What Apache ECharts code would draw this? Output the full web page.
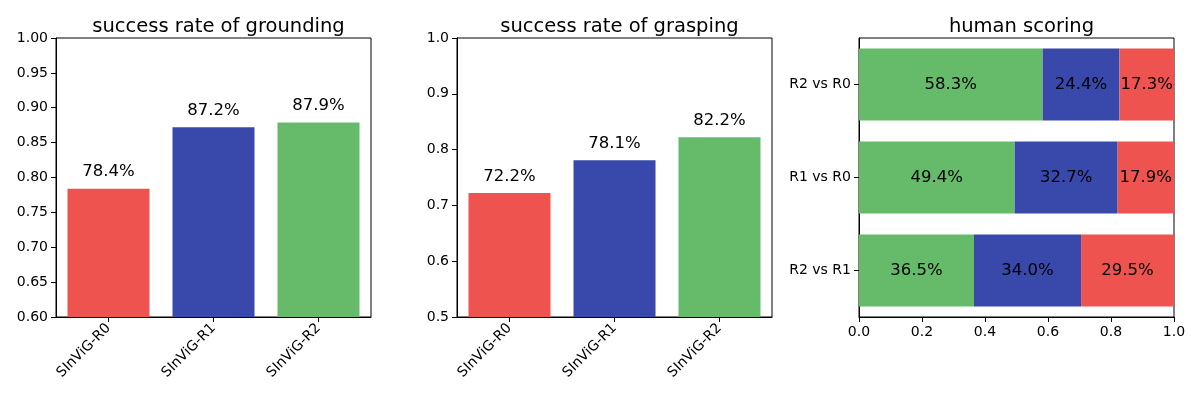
<!DOCTYPE html>
<html>
<head>
<meta charset="utf-8">
<script src="https://cdn.jsdelivr.net/npm/echarts@6/dist/echarts.min.js"></script>
<style>
html,body{margin:0;padding:0;background:#fff;}
#main{width:1200px;height:400px;}
</style>
</head>
<body>
<div id="main"></div>
<script>
// 数据
var models = ["SInViG-R0", "SInViG-R1", "SInViG-R2"];
var grounding = [0.784, 0.872, 0.879];
var grasping = [0.722, 0.781, 0.822];
var pairs = ["R2 vs R1", "R1 vs R0", "R2 vs R0"];
var winShare = [0.365, 0.494, 0.583];
var tieShare = [0.340, 0.327, 0.244];
var loseShare = [0.295, 0.179, 0.173];
var titles = ["success rate of grounding", "success rate of grasping", "human scoring"];

var RED = "#EF5350", BLUE = "#3949AB", GREEN = "#66BB6A";
var FONT = "DejaVu Sans";
var left = [56, 457, 859];
var W = 315, H = 279, TOP = 38;

function pct(v) { return (v * 100).toFixed(1) + "%"; }

var axisLine = { show: true, lineStyle: { color: "#000", width: 1 } };
var axisTick = { show: true, length: 5, lineStyle: { color: "#000" } };
var catTick = { show: true, length: 5, alignWithLabel: true, lineStyle: { color: "#000" } };
var tickLabel = { color: "#000", fontFamily: FONT, fontSize: 14 };

var option = {
    animation: false,
    textStyle: { fontFamily: FONT },
    title: titles.map(function (t, i) {
        return {
            text: t, left: left[i] + W / 2, top: 12, textAlign: "center",
            textStyle: { fontFamily: FONT, fontSize: 19.5, fontWeight: "normal", color: "#000" }
        };
    }),
    grid: left.map(function (l) {
        return { left: l, top: TOP, width: W, height: H, show: true, borderColor: "#000", borderWidth: 1, backgroundColor: "transparent" };
    }),
    xAxis: [
        { gridIndex: 0, type: "category", data: models, axisLine: axisLine, axisTick: catTick,
          axisLabel: Object.assign({ rotate: 45, margin: 9 }, tickLabel) },
        { gridIndex: 1, type: "category", data: models, axisLine: axisLine, axisTick: catTick,
          axisLabel: Object.assign({ rotate: 45, margin: 9 }, tickLabel) },
        { gridIndex: 2, type: "value", min: 0, max: 1, interval: 0.2, splitLine: { show: false }, axisLine: axisLine, axisTick: axisTick,
          axisLabel: Object.assign({ formatter: function (v) { return v.toFixed(1); } }, tickLabel) }
    ],
    yAxis: [
        { gridIndex: 0, type: "value", min: 0.6, max: 1.0, interval: 0.05, splitLine: { show: false }, axisLine: axisLine, axisTick: axisTick,
          axisLabel: Object.assign({ formatter: function (v) { return v.toFixed(2); } }, tickLabel) },
        { gridIndex: 1, type: "value", min: 0.5, max: 1.0, interval: 0.1, splitLine: { show: false }, axisLine: axisLine, axisTick: axisTick,
          axisLabel: Object.assign({ formatter: function (v) { return v.toFixed(1); } }, tickLabel) },
        { gridIndex: 2, type: "category", data: pairs, axisLine: axisLine, axisTick: catTick,
          axisLabel: tickLabel }
    ],
    series: [
        {
            type: "bar", xAxisIndex: 0, yAxisIndex: 0, barWidth: 82,
            data: grounding.map(function (v, i) { return { value: v, itemStyle: { color: [RED, BLUE, GREEN][i] } }; }),
            label: { show: true, position: "top", distance: 8, color: "#000", fontSize: 16.5, fontFamily: FONT, formatter: function (p) { return pct(p.value); } }
        },
        {
            type: "bar", xAxisIndex: 1, yAxisIndex: 1, barWidth: 82,
            data: grasping.map(function (v, i) { return { value: v, itemStyle: { color: [RED, BLUE, GREEN][i] } }; }),
            label: { show: true, position: "top", distance: 8, color: "#000", fontSize: 16.5, fontFamily: FONT, formatter: function (p) { return pct(p.value); } }
        }
    ].concat([[winShare, GREEN], [tieShare, BLUE], [loseShare, RED]].map(function (s) {
        return {
            type: "bar", xAxisIndex: 2, yAxisIndex: 2, stack: "score", barWidth: 72,
            data: s[0], itemStyle: { color: s[1] },
            label: { show: true, position: "inside", color: "#000", fontSize: 16.5, fontFamily: FONT, formatter: function (p) { return pct(p.value); } }
        };
    }))
};

var myChart = echarts.init(document.getElementById("main"));
myChart.setOption(option);
</script>
</body>
</html>
